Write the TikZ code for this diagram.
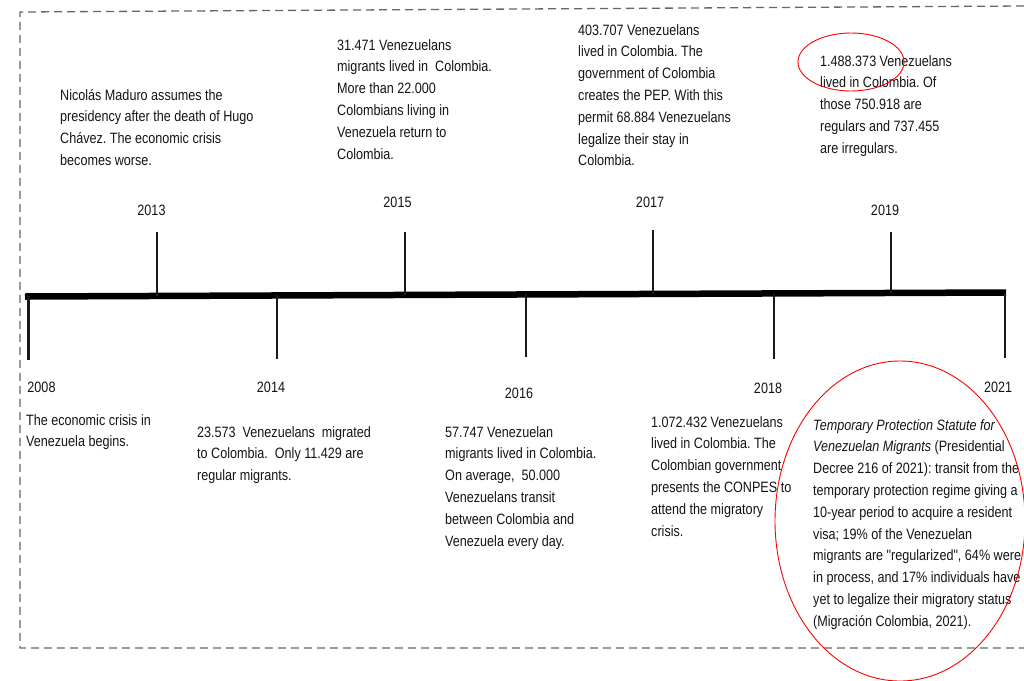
\documentclass[tikz,border=0pt]{standalone}
\usepackage{fontspec}
\newfontfamily\tlfont[FakeStretch=0.84]{Liberation Sans}
\begin{document}
\begin{tikzpicture}[x=1pt,y=-1pt,
  txt/.style={anchor=base west, inner sep=0pt, align=left, font=\tlfont\fontsize{15}{21.8}\selectfont\frenchspacing, text=black!92},
  yr/.style={anchor=base, inner sep=0pt, font=\tlfont\fontsize{15}{18}\selectfont, text=black!92},
  tick/.style={line width=2.8pt, black!90},
  mainline/.style={line width=6.5pt, black},
  frame/.style={draw=black!60, line width=1.3pt, dash pattern=on 8pt off 5pt},
  redring/.style={draw=red, line width=0.9pt}]
\useasboundingbox (0,0) rectangle (1024,680);
% dashed frame
\coordinate (f1) at (1024,6);
\coordinate (f2) at (20,12);
\coordinate (f3) at (20,648);
\coordinate (f4) at (1024,648);
\draw[frame] (f1) -- (f2) -- (f3) -- (f4);
% main line
\coordinate (L) at (25,296.5);
\coordinate (R) at (1006,292.5);
\draw[mainline] (L) -- (R);
% ticks
\coordinate (t08a) at (28.5,296); \coordinate (t08b) at (28.5,360);
\coordinate (t13a) at (157,296); \coordinate (t13b) at (157,232);
\coordinate (t14a) at (277,295); \coordinate (t14b) at (277,359);
\coordinate (t15a) at (405,295); \coordinate (t15b) at (405,232);
\coordinate (t16a) at (526,294); \coordinate (t16b) at (526,357);
\coordinate (t17a) at (653,294); \coordinate (t17b) at (653,230);
\coordinate (t18a) at (774,294); \coordinate (t18b) at (774,359);
\coordinate (t19a) at (891,293); \coordinate (t19b) at (891,232);
\coordinate (t21a) at (1005,293); \coordinate (t21b) at (1005,358);
\foreach \t in {08,13,14,15,16,17,18,19,21} \draw[tick] (t\t a) -- (t\t b);
% years
\node[yr] (y08) at (41.5,392) {2008};
\node[yr] (y13) at (151.5,215) {2013};
\node[yr] (y14) at (271,392) {2014};
\node[yr] (y15) at (397.5,207) {2015};
\node[yr] (y16) at (519,398) {2016};
\node[yr] (y17) at (650,207) {2017};
\node[yr] (y18) at (768,393) {2018};
\node[yr] (y19) at (885,215) {2019};
\node[yr] (y21) at (998,392) {2021};
% texts (anchored at the baseline of their last line)
\node[txt] (e08) at (26,446.8) {The economic crisis in\\Venezuela begins.};
\node[txt] (e13) at (60,165.4) {Nicolás Maduro assumes the\\presidency after the death of Hugo\\Chávez. The economic crisis\\becomes worse.};
\node[txt] (e14) at (197,480.6) {23.573~ Venezuelans~ migrated\\to Colombia.~ Only 11.429 are\\regular migrants.};
\node[txt] (e15) at (337,159) {31.471 Venezuelans\\migrants lived in~ Colombia.\\More than 22.000\\Colombians living in\\Venezuela return to\\Colombia.};
\node[txt] (e16) at (445,546) {57.747 Venezuelan\\migrants lived in Colombia.\\On average,~ 50.000\\Venezuelans transit\\between Colombia and\\Venezuela every day.};
\node[txt] (e17) at (578,165.8) {403.707 Venezuelans\\lived in Colombia. The\\government of Colombia\\creates the PEP. With this\\permit 68.884 Venezuelans\\legalize their stay in\\Colombia.};
\node[txt] (e18) at (651,536) {1.072.432 Venezuelans\\lived in Colombia. The\\Colombian government\\presents the CONPES to\\attend the migratory\\crisis.};
\node[txt] (e19) at (820,153.2) {1.488.373 Venezuelans\\lived in Colombia. Of\\those 750.918 are\\regulars and 737.455\\are irregulars.};
\node[txt] (e21) at (813,626.2) {\itshape Temporary Protection Statute for\\\itshape Venezuelan Migrants\upshape{} (Presidential\\Decree 216 of 2021): transit from the\\temporary protection regime giving a\\10-year period to acquire a resident\\visa; 19\% of the Venezuelan\\migrants are "regularized", 64\% were\\in process, and 17\% individuals have\\yet to legalize their migratory status\\(Migración Colombia, 2021).};
% red marks
\draw[redring] (851,62) ellipse [x radius=53, y radius=29];
\draw[redring] (900,521) ellipse [x radius=125, y radius=160];
\end{tikzpicture}
\end{document}
